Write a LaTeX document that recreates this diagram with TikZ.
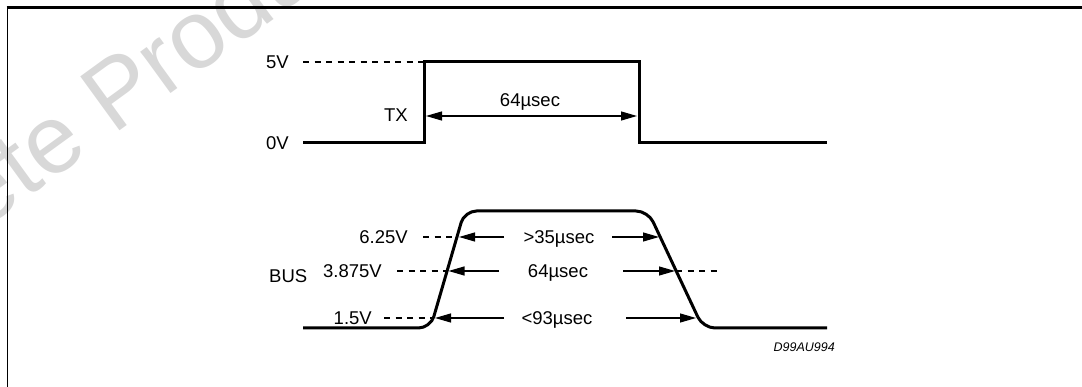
\documentclass[tikz,border=0pt]{standalone}
\usepackage{fontspec}
\setmainfont{Liberation Sans}
\usetikzlibrary{arrows.meta,calc}
\definecolor{wmgray}{RGB}{216,216,216}
\tikzset{
 lbl/.style={inner sep=0pt, font=\fontsize{18.5}{22}\selectfont},
 code/.style={inner sep=0pt, font=\fontsize{12.5}{15}\selectfont\itshape},
 sig/.style={line width=3pt, line join=miter},
 sigcurve/.style={line width=3pt, rounded corners=12pt},
 dim/.style={line width=1.2pt, -{Triangle[length=16pt,width=9pt]}},
 dimb/.style={line width=1.2pt, {Triangle[length=16pt,width=9pt]}-{Triangle[length=16pt,width=9pt]}},
 lvl/.style={line width=1.1pt, dash pattern=on 6pt off 5.5pt},
 wm/.style={inner sep=0pt, text=wmgray, font=\fontsize{97}{110}\selectfont, rotate=36},
}
\begin{document}
\begin{tikzpicture}[x=1pt,y=-1pt]
\useasboundingbox (0,0) rectangle (1082,387);
% watermark
\begin{scope}
\clip (0,0) rectangle (1082,387);
\coordinate (wmP) at (113,136);
\node[wm, anchor=base west] (wm2) at (wmP) {Product(s)};
\node[wm, anchor=base east] (wm1) at (wmP) {Obsolete\rule{0.278em}{0pt}};
\end{scope}
% frame
\coordinate (fTL) at (7.5,7.5);
\coordinate (fTR) at (1082,7.5);
\coordinate (fBL) at (7.5,387);
\draw[line width=2.5pt] ($(fTL)+(-0.8,0)$) -- (fTR);
\draw[line width=1.6pt] (fTL) -- (fBL);
% TX signal
\coordinate (t0) at (303,143);
\coordinate (t1) at (424,143);
\coordinate (t2) at (424,62);
\coordinate (t3) at (639,62);
\coordinate (t4) at (639,143);
\coordinate (t5) at (827,143);
\draw[sig] (t0) -- (t1) -- (t2) -- (t3) -- (t4) -- (t5);
\node[lbl, anchor=base west] (v5) at (266,68.5) {5V};
\node[lbl, anchor=base west] (v0) at (266,149.5) {0V};
\coordinate (d5) at (303,62);
\draw[lvl] (d5) -- (t2);
\node[lbl, anchor=base] (tx) at (396,122) {TX};
\coordinate (a1) at (426,116);
\coordinate (a2) at (637,116);
\draw[dimb] (a1) -- (a2);
\node[lbl, anchor=base] (p64) at (530,107) {64µsec};
% BUS signal
\coordinate (b0) at (303,328);
\coordinate (b1) at (430.5,328);
\coordinate (b2) at (464.5,211);
\coordinate (b3) at (648,211);
\coordinate (b4) at (703,328);
\coordinate (b5) at (827,328);
\draw[sigcurve] (b0) -- (b1) -- (b2) -- (b3) -- (b4) -- (b5);
\node[lbl, anchor=base west] (bus) at (269,283) {BUS};
\node[lbl, anchor=base east] (l625) at (408,243.6) {6.25V};
\node[lbl, anchor=base east] (l3875) at (382,277.6) {3.875V};
\node[lbl, anchor=base east] (l15) at (372,324.6) {1.5V};
% level dashes
\coordinate (c625a) at (423,237); \coordinate (c625b) at (457,237);
\coordinate (c3875a) at (397,271); \coordinate (c3875b) at (447,271);
\coordinate (c15a) at (384,318); \coordinate (c15b) at (433,318);
\coordinate (c3875c) at (676,271); \coordinate (c3875d) at (717,271);
\draw[lvl] (c625a) -- (c625b);
\draw[lvl] (c3875a) -- (c3875b);
\draw[lvl] (c15a) -- (c15b);
\draw[lvl] (c3875c) -- (c3875d);
% timing labels and arrows
\node[lbl, anchor=base] (t35) at (559,243.6) {>35µsec};
\node[lbl, anchor=base] (t64) at (558,277.6) {64µsec};
\node[lbl, anchor=base] (t93) at (557,324.6) {<93µsec};
\coordinate (r1l) at (504,237); \coordinate (r1lt) at (459,237);
\coordinate (r1r) at (612,237); \coordinate (r1rt) at (659,237);
\coordinate (r2l) at (499,271); \coordinate (r2lt) at (448.5,271);
\coordinate (r2r) at (623,271); \coordinate (r2rt) at (675,271);
\coordinate (r3l) at (504,318); \coordinate (r3lt) at (435,318);
\coordinate (r3r) at (626,318); \coordinate (r3rt) at (696,318);
\draw[dim] (r1l) -- (r1lt);
\draw[dim] (r1r) -- (r1rt);
\draw[dim] (r2l) -- (r2lt);
\draw[dim] (r2r) -- (r2rt);
\draw[dim] (r3l) -- (r3lt);
\draw[dim] (r3r) -- (r3rt);
\node[code, anchor=base east] (code) at (835,352) {D99AU994};
\end{tikzpicture}
\end{document}
